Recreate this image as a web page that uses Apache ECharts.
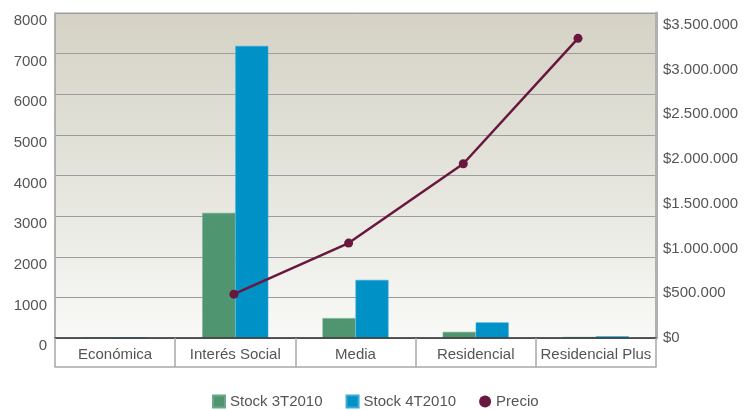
<!DOCTYPE html>
<html>
<head>
<meta charset="utf-8">
<script src="https://cdn.jsdelivr.net/npm/echarts@6/dist/echarts.min.js"></script>
<style>
  html, body { margin: 0; padding: 0; background: #ffffff; }
  #chart { width: 756px; height: 410px; }
</style>
</head>
<body>
<div id="chart"></div>
<script>
// Segmentos de vivienda
const categories = ['Económica', 'Interés Social', 'Media', 'Residencial', 'Residencial Plus'];
// Unidades en stock por trimestre
const stock3T2010 = [0, 3080, 490, 150, 25];
const stock4T2010 = [0, 7190, 1430, 385, 45];
// Precio promedio por segmento (pesos)
const precio = [null, 490000, 1060000, 1946000, 3347000];

const seriesNames = ['Stock 3T2010', 'Stock 4T2010', 'Precio'];
const colors = { s3: '#4e9570', s4: '#0092c7', precio: '#6a1740' };

const FONT = "'Liberation Sans', Arial, sans-serif";
const TEXT = '#555555';

function money(v) {
  return '$' + String(Math.round(v)).replace(/\B(?=(\d{3})+(?!\d))/g, '.');
}

// The price line runs on its own secondary horizontal axis (segment index)
const precioPoints = precio
  .map((v, i) => (v == null ? null : [i, v]))
  .filter(p => p !== null);

const chart = echarts.init(document.getElementById('chart'), null, { renderer: 'canvas' });

chart.setOption({
  backgroundColor: '#ffffff',
  animation: false,
  textStyle: { fontFamily: FONT },
  grid: {
    left: 55, right: 100, top: 13, bottom: 72,
    show: true,
    borderColor: '#a3a3a3',
    borderWidth: 1,
    backgroundColor: {
      type: 'linear', x: 0, y: 0, x2: 0, y2: 1,
      colorStops: [
        { offset: 0, color: '#d5d2c5' },
        { offset: 0.5, color: '#e4e4dc' },
        { offset: 1, color: '#f9f9f7' }
      ]
    }
  },
  legend: {
    top: 389,
    left: 207,
    itemWidth: 12,
    itemHeight: 12,
    itemGap: 23,
    textStyle: { fontFamily: FONT, fontSize: 15, color: TEXT },
    data: [
      { name: seriesNames[0], icon: 'rect' },
      { name: seriesNames[1], icon: 'rect' },
      { name: seriesNames[2], icon: 'circle' }
    ]
  },
  xAxis: [
    {
      type: 'category',
      data: categories,
      position: 'bottom',
      axisLine: { show: true, onZero: false, lineStyle: { color: '#333333', width: 1.5 } },
      axisTick: { show: true, interval: 0, length: 29, lineStyle: { color: '#a8a8a8', width: 1.5 } },
      axisLabel: { interval: 0, margin: 9, fontFamily: FONT, fontSize: 15, color: TEXT },
      z: 5
    },
    {
      type: 'category',
      data: categories,
      position: 'bottom',
      offset: 29,
      axisLine: { show: true, onZero: false, lineStyle: { color: '#a8a8a8', width: 1.5 } },
      axisTick: { show: false },
      axisLabel: { show: false }
    },
    {
      // secondary horizontal axis for the price line, not drawn
      type: 'value',
      position: 'top',
      min: -0.56, max: 4.68,
      show: false
    }
  ],
  yAxis: [
    {
      type: 'value',
      min: 0, max: 8000, interval: 1000,
      axisLine: { show: true, onZero: false, lineStyle: { color: '#a8a8a8', width: 1.5 } },
      axisTick: { show: false },
      splitLine: { show: true, lineStyle: { color: '#9c9c9c', width: 1.2 } },
      axisLabel: {
        margin: 8, fontFamily: FONT, fontSize: 15, color: TEXT,
        verticalAlign: 'top', lineHeight: 16,
        formatter: v => String(v)
      }
    },
    {
      type: 'value',
      position: 'right',
      min: 0, max: 3630000, interval: 500000,
      axisLine: { show: true, onZero: false, lineStyle: { color: '#b0b0b0', width: 3 } },
      axisTick: { show: false },
      splitLine: { show: false },
      axisLabel: {
        margin: 7, fontFamily: FONT, fontSize: 15, color: TEXT,
        showMaxLabel: false,
        padding: [0, 0, 4, 0],
        formatter: money
      }
    }
  ],
  series: [
    {
      name: seriesNames[0],
      type: 'bar',
      data: stock3T2010,
      barWidth: 33,
      barGap: '0%',
      itemStyle: { color: colors.s3, borderColor: '#6aa988', borderWidth: 0.6 }
    },
    {
      name: seriesNames[1],
      type: 'bar',
      data: stock4T2010,
      barWidth: 33,
      itemStyle: { color: colors.s4, borderColor: '#3aaad6', borderWidth: 0.6 }
    },
    {
      name: seriesNames[2],
      type: 'line',
      xAxisIndex: 2,
      yAxisIndex: 1,
      data: precioPoints,
      symbol: 'circle',
      symbolSize: 9,
      lineStyle: { color: colors.precio, width: 2.5 },
      itemStyle: { color: colors.precio },
      z: 10
    }
  ]
});
</script>
</body>
</html>
